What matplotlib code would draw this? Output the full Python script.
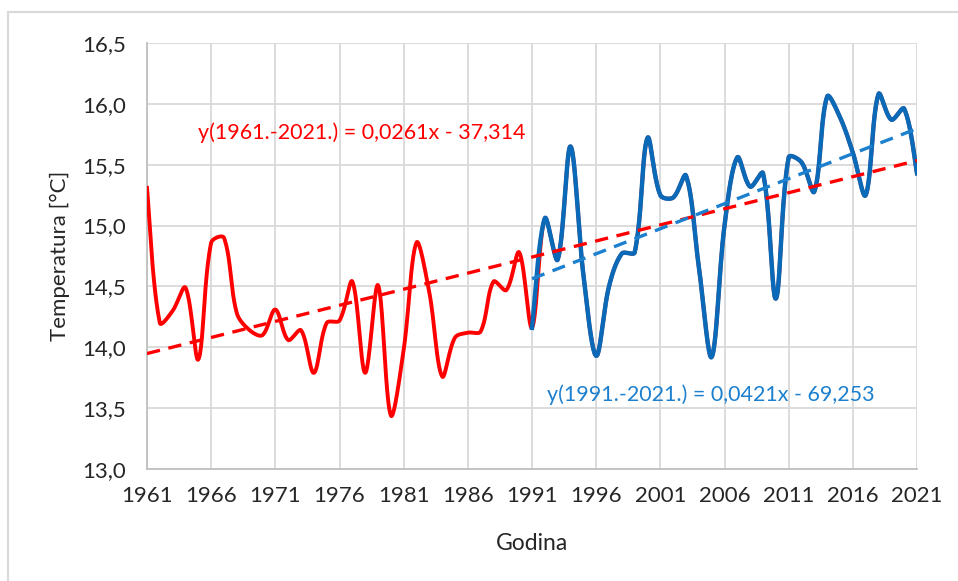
import numpy as np
import matplotlib.pyplot as plt
from matplotlib.patches import Rectangle

plt.rcParams['font.family'] = ['Lato', 'DejaVu Sans']

# Srednja godisnja temperatura zraka
godine = list(range(1961, 2022))
temperatura = [
    15.31, 14.20, 14.30, 14.49, 13.90, 14.86, 14.90, 14.28, 14.14, 14.10,
    14.31, 14.06, 14.14, 13.79, 14.20, 14.22, 14.54, 13.79, 14.51, 13.44,
    13.98, 14.86, 14.45, 13.76, 14.08, 14.12, 14.13, 14.54, 14.47, 14.78,
    14.16, 15.06, 14.72, 15.65, 14.60, 13.93, 14.50, 14.77, 14.78, 15.72,
    15.25, 15.23, 15.41, 14.66, 13.92, 15.00, 15.56, 15.32, 15.43, 14.40,
    15.56, 15.52, 15.28, 16.06, 15.89, 15.60, 15.25, 16.08, 15.87, 15.96,
    15.43,
]
jednadzba_1 = 'y(1961.-2021.) = 0,0261x - 37,314'
jednadzba_2 = 'y(1991.-2021.) = 0,0421x - 69,253'
y_oznake = ['13,0', '13,5', '14,0', '14,5', '15,0', '15,5', '16,0', '16,5']

x = np.array(godine, dtype=float)
y = np.array(temperatura)

# px po godini i po stupnju (za zagladjivanje u prostoru slike)
SX, SY = 12.83, 121.7


def zagladi(xs, ys, n=24, napetost=1 / 3):
    # glatka linija kao u Excelu (Bezier, kontrolne tocke prema duljini segmenta)
    P = np.column_stack([xs * SX, ys * SY])
    m = len(P)
    d = np.r_[np.hypot(*np.diff(P, axis=0).T)]
    out = []
    for i in range(m - 1):
        p0 = P[max(i - 1, 0)]
        p1, p2 = P[i], P[i + 1]
        p3 = P[min(i + 2, m - 1)]
        da = d[i - 1] if i > 0 else d[i]
        db = d[i]
        dc = d[i + 1] if i + 1 < m - 1 else d[i]
        c1 = p1 + (p2 - p0) * napetost * db / (da + db)
        c2 = p2 - (p3 - p1) * napetost * db / (db + dc)
        t = np.linspace(0, 1, n, endpoint=False)[:, None]
        seg = ((1 - t) ** 3 * p1 + 3 * (1 - t) ** 2 * t * c1
               + 3 * (1 - t) * t ** 2 * c2 + t ** 3 * p2)
        out.append(seg)
    out.append(P[-1:])
    out = np.vstack(out)
    return out[:, 0] / SX, out[:, 1] / SY


fig = plt.figure(figsize=(9.58, 5.81), dpi=100)
fig.patches.append(Rectangle((8 / 958, -0.1), 1.2, (581 - 12) / 581 + 0.1,
                             transform=fig.transFigure, fill=False,
                             edgecolor='#D9D9D9', linewidth=1.5))
ax = fig.add_axes([147 / 958, 112 / 581, 770 / 958, 426 / 581])

crvena = '#FF0000'
plava = '#0B6AB8'
plava_svijetla = '#1C80CE'

sx, sy = zagladi(x, y)
ax.plot(sx, sy, color=crvena, linewidth=2.8, zorder=3)

m2 = x >= 1991
sx2, sy2 = zagladi(x[m2], y[m2])
ax.plot(sx2, sy2, color=plava, linewidth=3.2, zorder=4)

# linearni trendovi
k1 = np.polyfit(x, y, 1)
ax.plot([1961, 2021], np.polyval(k1, [1961, 2021]), color=crvena,
        linewidth=2.4, linestyle=(0, (4, 2.6)), zorder=5)
k2 = np.polyfit(x[m2], y[m2], 1)
ax.plot([1991, 2021], np.polyval(k2, [1991, 2021]), color=plava_svijetla,
        linewidth=2.4, linestyle=(0, (4, 2.6)), zorder=5)

ax.text(1965.0, 15.76, jednadzba_1, color=crvena, fontsize=15.5, va='center')
ax.text(1992.2, 13.61, jednadzba_2, color=plava_svijetla, fontsize=15.5, va='center')

ax.set_xlim(1961, 2021)
ax.set_ylim(13.0, 16.5)
ax.set_xticks(range(1961, 2022, 5))
ax.set_yticks(np.arange(13.0, 16.51, 0.5))
ax.set_yticklabels(y_oznake)
ax.tick_params(length=0, labelsize=16, colors='#262626')
ax.tick_params(axis='x', pad=12)
ax.tick_params(axis='y', pad=15)
ax.grid(True, color='#D9D9D9', linewidth=1.3)
ax.set_axisbelow(True)
for s in ['top', 'right']:
    ax.spines[s].set_visible(False)
for s in ['left', 'bottom']:
    ax.spines[s].set_color('#BFBFBF')
    ax.spines[s].set_linewidth(1.3)

ax.set_xlabel('Godina', fontsize=16.5, color='#262626', labelpad=20)
ax.set_ylabel('Temperatura [°C]', fontsize=16, color='#262626', labelpad=9)

plt.savefig('out.png', dpi=100)
